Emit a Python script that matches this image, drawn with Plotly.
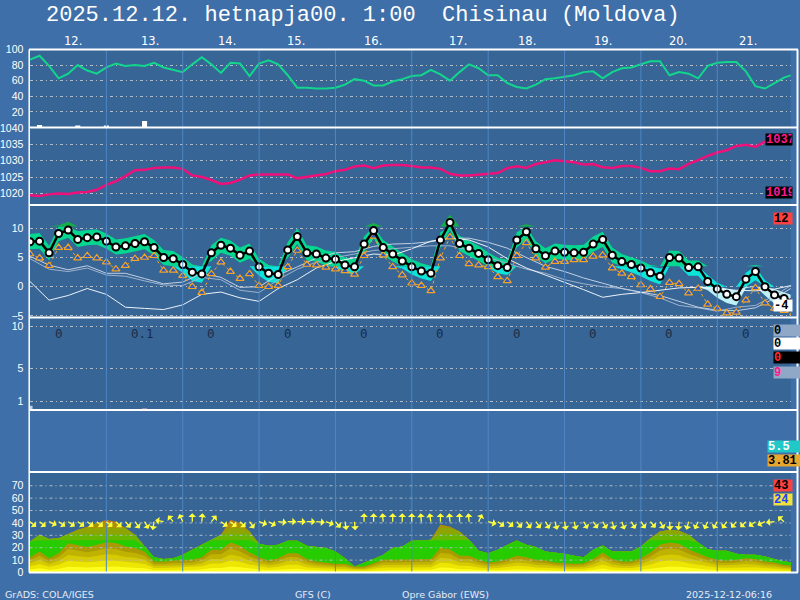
import numpy as np
import plotly.graph_objects as go

# ---------------- data ----------------
n_points = 81
step_hours = 3
times = np.arange(n_points) * step_hours          # hours since 2025-12-12 00:00 (approx.)

humidity = [87, 92, 79, 63, 69, 80, 73, 69, 77, 82, 79, 80, 79, 83, 77, 74, 71, 81, 90, 81,
            70, 83, 82, 66, 82, 86, 81, 67, 51, 51, 50, 50, 51, 55, 62, 60, 54, 54, 59, 62,
            66, 67, 74, 68, 60, 71, 81, 76, 67, 67, 57, 52, 50, 55, 62, 63, 65, 67, 71, 72,
            63, 71, 76, 77, 81, 85, 85, 67, 71, 69, 63, 79, 83, 84, 84, 72, 53, 50, 57, 64,
            68]

pressure = [1019.4, 1019.2, 1019.7, 1020.0, 1019.8, 1020.3, 1020.4, 1021.1, 1022.6, 1023.7,
            1025.3, 1027.1, 1027.2, 1027.8, 1027.9, 1027.9, 1027.5, 1025.5, 1025.0, 1024.1,
            1022.9, 1023.2, 1024.2, 1025.5, 1025.8, 1025.8, 1025.8, 1025.8, 1024.6, 1025.0,
            1025.5, 1025.9, 1026.8, 1027.2, 1028.2, 1028.5, 1027.7, 1028.5, 1028.7, 1028.7,
            1028.4, 1027.9, 1027.9, 1027.5, 1026.0, 1025.5, 1025.5, 1025.7, 1026.1, 1026.2,
            1027.7, 1028.3, 1027.8, 1029.0, 1029.5, 1030.1, 1029.8, 1029.5, 1028.8, 1029.0,
            1028.0, 1027.8, 1028.4, 1028.4, 1027.8, 1026.8, 1026.8, 1027.6, 1027.4, 1029.0,
            1030.2, 1031.5, 1032.5, 1033.2, 1034.5, 1034.9, 1034.3, 1035.8, 1036.6, 1036.8,
            1037.0]

temperature = [7.7, 7.8, 5.8, 9.1, 9.7, 8.1, 8.4, 8.5, 7.8, 6.8, 7.0, 7.4, 7.7, 6.7, 5.0, 4.8, 3.8, 2.5, 2.2, 5.8,
               7.1, 6.6, 5.4, 6.1, 3.4, 2.3, 2.1, 6.3, 8.6, 5.8, 5.6, 4.9, 4.7, 3.7, 3.4, 7.3, 9.6, 6.7, 5.6, 4.4,
               3.4, 2.7, 2.3, 8.0, 11.0, 7.4, 6.6, 5.7, 4.6, 3.6, 3.3, 8.0, 9.4, 6.5, 5.3, 6.1, 5.9, 5.8, 5.9, 7.3,
               8.1, 5.4, 4.3, 3.8, 3.2, 2.4, 1.8, 5.0, 4.9, 3.3, 3.4, 0.9, -0.4, -1.3, -1.7, 1.3, 2.6, 0.0, -1.4, -2.0,
               -2.5]

temp_band_high = [9.0, 9.2, 7.0, 10.5, 11.1, 9.5, 9.7, 9.8, 9.1, 8.1, 8.3, 8.7, 9.0, 8.0, 6.3, 6.1, 5.1, 3.8, 3.5, 7.1,
                  8.4, 7.9, 6.7, 7.4, 4.8, 3.7, 3.4, 7.6, 10.0, 7.1, 6.9, 6.2, 6.0, 5.0, 4.7, 8.6, 10.9, 8.0, 6.9, 5.7,
                  4.7, 4.0, 3.6, 9.3, 12.3, 8.7, 7.9, 7.0, 5.9, 4.9, 4.6, 9.3, 10.7, 7.8, 6.6, 7.4, 7.2, 7.1, 7.2, 8.6,
                  9.4, 6.7, 5.6, 5.1, 4.5, 3.7, 3.1, 6.2, 6.1, 4.5, 4.5, 2.0, 0.7, -0.3, -0.7, 2.4, 3.7, 1.1, -0.4, -1.0,
                  -1.5]

temp_band_low = [6.4, 6.5, 4.5, 7.8, 8.4, 6.8, 7.1, 7.2, 6.5, 5.5, 5.7, 6.1, 6.4, 5.4, 3.7, 3.5, 2.4, 1.0, 0.7, 4.4,
                 5.8, 5.3, 4.1, 4.8, 1.9, 0.8, 0.6, 4.9, 7.3, 4.5, 4.3, 3.6, 3.4, 2.4, 2.1, 6.0, 8.3, 5.4, 4.3, 3.1,
                 2.1, 1.4, 1.0, 6.7, 9.7, 6.1, 5.3, 4.4, 3.3, 2.3, 2.0, 6.7, 8.1, 5.2, 4.0, 4.8, 4.6, 4.5, 4.6, 6.0,
                 6.8, 4.1, 3.0, 2.5, 1.8, 1.0, 0.4, 3.6, 3.5, 1.9, 1.9, -0.6, -1.9, -2.8, -3.2, -0.2, 1.1, -1.5, -2.9, -3.5,
                 -4.0]

dewpoint = [5.6, 4.9, 3.6, 6.7, 6.7, 4.9, 5.3, 4.9, 4.2, 3.0, 3.6, 4.8, 5.0, 5.3, 2.8, 2.8, 1.9, 0.0, -1.0, 2.2,
            4.2, 2.6, 1.4, 2.2, 0.2, 0.0, 0.2, 3.4, 6.2, 3.8, 3.7, 3.3, 3.0, 2.7, 2.1, 5.3, 8.6, 5.4, 3.4, 2.0,
            0.6, 0.2, -0.7, 4.9, 8.5, 5.3, 3.9, 3.7, 3.4, 1.7, 1.0, 5.3, 7.5, 4.9, 3.3, 4.3, 4.3, 4.6, 4.6, 5.2,
            5.4, 3.2, 2.3, 1.7, 0.3, -0.4, -1.7, 0.7, 0.5, -1.1, -0.3, -3.0, -3.7, -4.5, -4.4, -2.3, -0.2, -2.8, -3.7, -4.1,
            -4.5]

times_6h = np.arange(41) * 6
temp_line_a = [0.9, -2.3, -1.5, -0.3, -1.3, -3.5, -3.7, -3.9, -3.1, -1.3, -0.9, -1.9, -2.5, -0.3, 1.2, 3.2, 4.3, 5.0, 5.6, 5.4,
               6.5, 7.8, 8.3, 8.0, 6.8, 4.8, 3.2, 2.0, 0.8, -0.5, -1.8, -1.3, -1.0, -0.6, -0.2, -0.1, -0.4, -0.6, -0.7, -0.4,
               0.3]
temp_line_b = [5.2, 3.7, 2.9, 3.6, 2.3, 2.3, 1.4, 0.5, 0.8, 2.3, 1.6, -0.1, 0.0, 2.0, 3.4, 4.9, 5.8, 6.0, 6.9, 7.3,
               7.4, 7.7, 8.3, 8.3, 7.6, 6.6, 5.0, 3.5, 2.6, 1.5, 0.6, -0.3, -0.9, -1.5, -2.5, -3.5, -4.0, -4.1, -3.6, -2.0,
               0.0]
temp_line_c = [4.8, 3.0, 2.6, 3.2, 2.0, 1.8, 1.0, 0.3, 0.2, 1.6, 1.2, -0.6, -1.0, 1.2, 3.0, 4.2, 5.0, 5.6, 6.2, 6.5,
               6.8, 7.0, 7.0, 6.3, 5.0, 4.0, 3.0, 2.3, 1.2, 0.5, 0.0, -0.3, -1.0, -1.9, -3.2, -3.6, -4.2, -3.5, -3.2, -1.5,
               0.5]

gust = [25.0, 30.4, 27.0, 27.7, 31.0, 34.5, 37.0, 40.0, 42.5, 41.0, 36.0, 30.4, 21.0, 12.4, 10.8, 11.6, 14.3, 18.3, 22.3, 26.4,
        30.4, 42.5, 40.0, 33.0, 23.2, 21.5, 22.3, 25.6, 25.6, 21.5, 20.5, 19.7, 17.0, 11.6, 4.8, 7.5, 10.8, 14.3, 19.7, 21.0,
        25.6, 25.8, 26.4, 38.5, 37.0, 33.0, 26.4, 17.5, 15.6, 18.3, 22.3, 25.8, 22.3, 20.5, 17.0, 16.2, 15.1, 13.5, 12.4, 18.3,
        21.8, 17.0, 17.0, 17.0, 21.0, 27.7, 33.0, 34.5, 33.7, 30.4, 24.2, 18.8, 17.5, 17.5, 15.1, 14.3, 14.3, 12.9, 10.8, 8.9,
        8.1]

wind = [12.4, 17.0, 11.6, 15.6, 23.7, 22.3, 20.5, 22.3, 24.4, 23.8, 21.0, 19.7, 17.0, 8.9, 8.9, 9.7, 9.7, 10.2, 12.4, 18.3,
        18.3, 24.2, 21.5, 16.2, 12.4, 9.7, 11.6, 15.6, 15.6, 10.8, 8.9, 8.1, 7.0, 7.0, 4.8, 4.8, 7.5, 10.2, 10.2, 10.2,
        10.2, 10.8, 10.8, 19.7, 18.8, 13.5, 13.5, 10.2, 8.1, 8.9, 10.8, 13.5, 12.4, 10.2, 9.7, 8.1, 7.5, 7.0, 7.5, 10.8,
        16.2, 10.8, 8.9, 8.9, 11.6, 16.2, 22.3, 24.2, 23.2, 18.8, 15.6, 12.4, 10.2, 9.7, 10.2, 11.6, 10.8, 8.9, 8.1, 6.2,
        5.4]

wind_dir_from = [310, 310, 295, 305, 305, 305, 310, 310, 310, 315, 320, 325, 330, 10, 100, 140, 155, 180, 185, 220,
                 305, 310, 315, 325, 290, 300, 275, 270, 270, 270, 275, 290, 320, 350, 355, 180, 180, 175, 180, 180,
                 180, 175, 170, 180, 175, 180, 175, 205, 285, 305, 310, 320, 325, 325, 330, 345, 350, 345, 330, 325,
                 330, 345, 340, 330, 325, 320, 330, 355, 5, 15, 25, 25, 30, 35, 40, 45, 55, 65, 85, 130,
                 140]

top_bar_idx = [1, 5, 8, 12]
top_bar_vals = [3.2, 2.6, 2.6, 8.3]
precip_idx = [0, 12]
precip_vals = [0.5, 0.15]
daily_precip = ["0", "0.1", "0", "0", "0", "0", "0", "0", "0", "0"]
day_labels = ["12.", "13.", "14.", "15.", "16.", "17.", "18.", "19.", "20.", "21."]

title_text = "2025.12.12. hetnapja00. 1:00\u00a0\u00a0Chisinau (Moldova)"
footer_texts = ["GrADS: COLA/IGES", "GFS (C)", "Opre Gábor (EWS)", "2025-12-12-06:16"]

# ---------------- geometry / style ----------------
W, H = 800, 600
X0, X1 = 29.5, 790.7          # plot area in px
X_FIRST = 30.0                 # px of first time step
PX_PER_H = 3.1817
t_left = (X0 - X_FIRST) / PX_PER_H
t_right = (X1 - X_FIRST) / PX_PER_H

BG = "#3f6fa8"
PLOT_BG = "#366596"
GRID = "#b4bcc6"
GRIDDASH = "3px,3px,1px,3px"
DAYLINE = "#4f86c6"


def px(x):
    return x / W


def py(y):
    return 1 - y / H


panels = [(49.5, 127.5), (127.5, 205), (205, 317.5), (317.5, 410), (410, 472), (472, 572.5)]
ranges = [[0, 100], [1016.45, 1040.15], [-5.26, 13.98], [0, 11.1], [-7.67, 2.97], [0, 81.1]]
tickvals = [[20, 40, 60, 80, 100], [1020, 1025, 1030, 1035, 1040], [-5, 0, 5, 10], [1, 5, 10],
            [-6, -4, -2, 0, 2], [0, 10, 20, 30, 40, 50, 60, 70]]

fig = go.Figure()

# ---- panel 1: humidity ----
fig.add_trace(go.Bar(x=times[top_bar_idx], y=top_bar_vals, width=1.6, marker=dict(color="white", line=dict(width=0)),
                     xaxis="x", yaxis="y", hoverinfo="skip"))
fig.add_trace(go.Scatter(x=times, y=humidity, mode="lines", line=dict(color="#12d68c", width=2),
                         xaxis="x", yaxis="y", hoverinfo="skip"))

# ---- panel 2: pressure ----
fig.add_trace(go.Scatter(x=times, y=pressure, mode="lines", line=dict(color="#f0107a", width=2.5),
                         xaxis="x", yaxis="y2", hoverinfo="skip"))

# ---- panel 3: temperature ----
hi = np.array(temp_band_high)
lo = np.array(temp_band_low)
for a, b, col in [(-30, 0, "#bdf1f5"), (0, 3.5, "#0ce4da"), (3.5, 10.3, "#05d690"), (10.3, 30, "#14ae48")]:
    fig.add_trace(go.Scatter(x=times, y=np.clip(lo, a, b), mode="lines", line=dict(width=0),
                             xaxis="x", yaxis="y3", hoverinfo="skip"))
    fig.add_trace(go.Scatter(x=times, y=np.clip(hi, a, b), mode="lines", line=dict(width=0),
                             fill="tonexty", fillcolor=col, xaxis="x", yaxis="y3", hoverinfo="skip"))
for arr, col in [(temp_line_c, "#9fb2cc"), (temp_line_b, "#c3cfe2"), (temp_line_a, "#eef2f8")]:
    fig.add_trace(go.Scatter(x=times_6h, y=arr, mode="lines", line=dict(color=col, width=1),
                             xaxis="x", yaxis="y3", hoverinfo="skip"))
fig.add_trace(go.Scatter(x=times, y=dewpoint, mode="lines+markers",
                         line=dict(color="#f4a424", width=1, dash="dot"),
                         marker=dict(symbol="triangle-up", size=7, color="#2a56c6",
                                     line=dict(color="#f4a424", width=1.2)),
                         xaxis="x", yaxis="y3", hoverinfo="skip"))
fig.add_trace(go.Scatter(x=times, y=temperature, mode="lines+markers", line=dict(color="black", width=2.5),
                         marker=dict(symbol="circle", size=7, color="white", line=dict(color="black", width=2)),
                         xaxis="x", yaxis="y3", hoverinfo="skip"))

# ---- panel 4: precipitation ----
fig.add_trace(go.Bar(x=times[precip_idx], y=precip_vals, width=1.6,
                     marker=dict(color=["#c4d0e4", "#f0b0b0"], line=dict(width=0)),
                     xaxis="x", yaxis="y4", hoverinfo="skip"))

# ---- panel 6: wind ----
g = np.array(gust)
for cap, col in [(None, "#c27a12"), (40, "#a89200"), (36, "#8ea400"), (31, "#68b600"), (26, "#26cc00")]:
    yv = g if cap is None else np.minimum(g, cap)
    fig.add_trace(go.Scatter(x=times, y=yv, mode="lines", line=dict(width=0), fill="tozeroy",
                             fillcolor=col, xaxis="x", yaxis="y6", hoverinfo="skip"))
wv = np.array(wind)
for frac, col in [(1.0, "#aa9a00"), (0.8, "#c0b200"), (0.6, "#d6ca00"), (0.4, "#ece600"), (0.2, "#fdfd20")]:
    fig.add_trace(go.Scatter(x=times, y=wv * frac, mode="lines", line=dict(width=0), fill="tozeroy",
                             fillcolor=col, xaxis="x", yaxis="y6", hoverinfo="skip"))

# ---------------- layout ----------------
layout = dict(template="none", width=W, height=H, autosize=False,
              margin=dict(l=0, r=0, t=0, b=0, pad=0), paper_bgcolor=BG, plot_bgcolor=PLOT_BG,
              showlegend=False, barmode="overlay",
              xaxis=dict(domain=[px(X0), px(X1)], range=[t_left, t_right], visible=False, anchor="y6",
                         fixedrange=True, automargin=False))
for k, ((top, bot), rng, tv) in enumerate(zip(panels, ranges, tickvals)):
    name = "yaxis" if k == 0 else f"yaxis{k + 1}"
    layout[name] = dict(domain=[py(bot), py(top)], range=rng, anchor="x", tickvals=tv,
                        ticks="outside", ticklen=3, tickcolor="rgba(0,0,0,0)",
                        tickfont=dict(family="Liberation Sans", size=10.5, color="white"),
                        showgrid=(k != 5), gridcolor=GRID, griddash=GRIDDASH, gridwidth=1,
                        zeroline=False, showline=False, fixedrange=True, automargin=False)
fig.update_layout(**layout)

shapes = []
# wind-panel grid above the fills
for v in tickvals[5][1:]:
    shapes.append(dict(type="line", xref="paper", yref="y6", x0=px(X0), x1=px(X1), y0=v, y1=v,
                       line=dict(color=GRID, width=1, dash=GRIDDASH), layer="above"))
# day lines
for k in range(1, 10):
    shapes.append(dict(type="line", xref="x", yref="paper", x0=24 * k, x1=24 * k, y0=py(572.5), y1=py(49.5),
                       line=dict(color=DAYLINE, width=1), layer="above"))
# white separators
for yb in [49.5, 127.5, 205, 317.5, 410, 472, 572.5]:
    shapes.append(dict(type="line", xref="paper", yref="paper", x0=px(29), x1=px(798), y0=py(yb), y1=py(yb),
                       line=dict(color="white", width=2), layer="above"))
shapes.append(dict(type="line", xref="paper", yref="paper", x0=px(29.2), x1=px(29.2), y0=py(572.5), y1=py(49.5),
                   line=dict(color="white", width=1.5), layer="above"))
shapes.append(dict(type="line", xref="paper", yref="paper", x0=px(797.5), x1=px(797.5), y0=py(572.5), y1=py(49.5),
                   line=dict(color="white", width=2), layer="above"))

ann = []
ann.append(dict(xref="paper", yref="paper", x=px(44), y=py(16), xanchor="left", yanchor="middle",
                text=title_text, showarrow=False, font=dict(family="Liberation Mono", size=22, color="white")))
day_label_px = [73, 150, 227, 296, 373, 458, 527, 603, 678, 748]
for lab, xx in zip(day_labels, day_label_px):
    ann.append(dict(xref="paper", yref="paper", x=px(xx), y=py(41), xanchor="center", yanchor="middle",
                    text=lab, showarrow=False, font=dict(family="DejaVu Sans", size=11.5, color="white")))
for k, lab in enumerate(daily_precip):
    ann.append(dict(xref="x", yref="paper", x=24 * k + 7.1, y=py(333.5), xanchor="left", yanchor="middle",
                    text=lab, showarrow=False, font=dict(family="DejaVu Sans Mono", size=12.5, color="#1c2c46")))
footer_px = [3, 293, 400, 684]
for txt, xx in zip(footer_texts, footer_px):
    ann.append(dict(xref="paper", yref="paper", x=px(xx), y=py(594), xanchor="left", yanchor="middle",
                    text=txt, showarrow=False, font=dict(family="DejaVu Sans", size=9.5, color="#e6ecf6")))


def right_label(text, yc, bg, fg, xl, xr):
    return dict(xref="paper", yref="paper", x=px(xl), y=py(yc), xanchor="left", yanchor="middle",
                text="<b>" + text + "</b>", showarrow=False, bgcolor=bg, width=xr - xl, height=11,
                align="left", borderpad=0, font=dict(family="Liberation Mono", size=12, color=fg))


ann += [
    right_label("1037", 139.7, "black", "#ff1a8c", 765, 790.7),
    right_label("1019", 192.3, "black", "#ff1a8c", 765, 790.7),
    right_label("12", 218.3, "#ff4040", "black", 772.7, 790.7),
    right_label("-4", 305.5, "white", "black", 772.7, 790.7),
    right_label("0", 330, "#90a8c8", "black", 772.7, 800),
    right_label("0", 343.5, "white", "black", 772.7, 800),
    right_label("0", 357.5, "black", "#ff3030", 772.7, 800),
    right_label("9", 372, "#90a8c8", "#ff1a8c", 772.7, 800),
    right_label("5.5", 446, "#20c8c8", "white", 766.7, 800),
    right_label("3.81", 460.5, "#e8a830", "black", 766.7, 800),
    right_label("43", 485, "#ff4040", "black", 772.7, 790.7),
    right_label("24", 499, "#f0e040", "#2040ff", 772.7, 790.7),
]

# wind direction arrows (tail anchored, head in flow direction)
arrow_len = 10
for t, d in zip(times, wind_dir_from):
    to = np.deg2rad((d + 180) % 360)
    ann.append(dict(xref="x", yref="y6", x=t, y=41, text="", showarrow=True,
                    ax=arrow_len * np.sin(to), ay=-arrow_len * np.cos(to),
                    arrowside="start", arrowhead=2, arrowsize=1.0, arrowwidth=1.3, arrowcolor="#ffff3c"))

fig.update_layout(shapes=shapes, annotations=ann)
fig.write_html("out.html", config={"displayModeBar": False},
               post_script="document.body.style.margin='0px';document.body.style.overflow='hidden';")
